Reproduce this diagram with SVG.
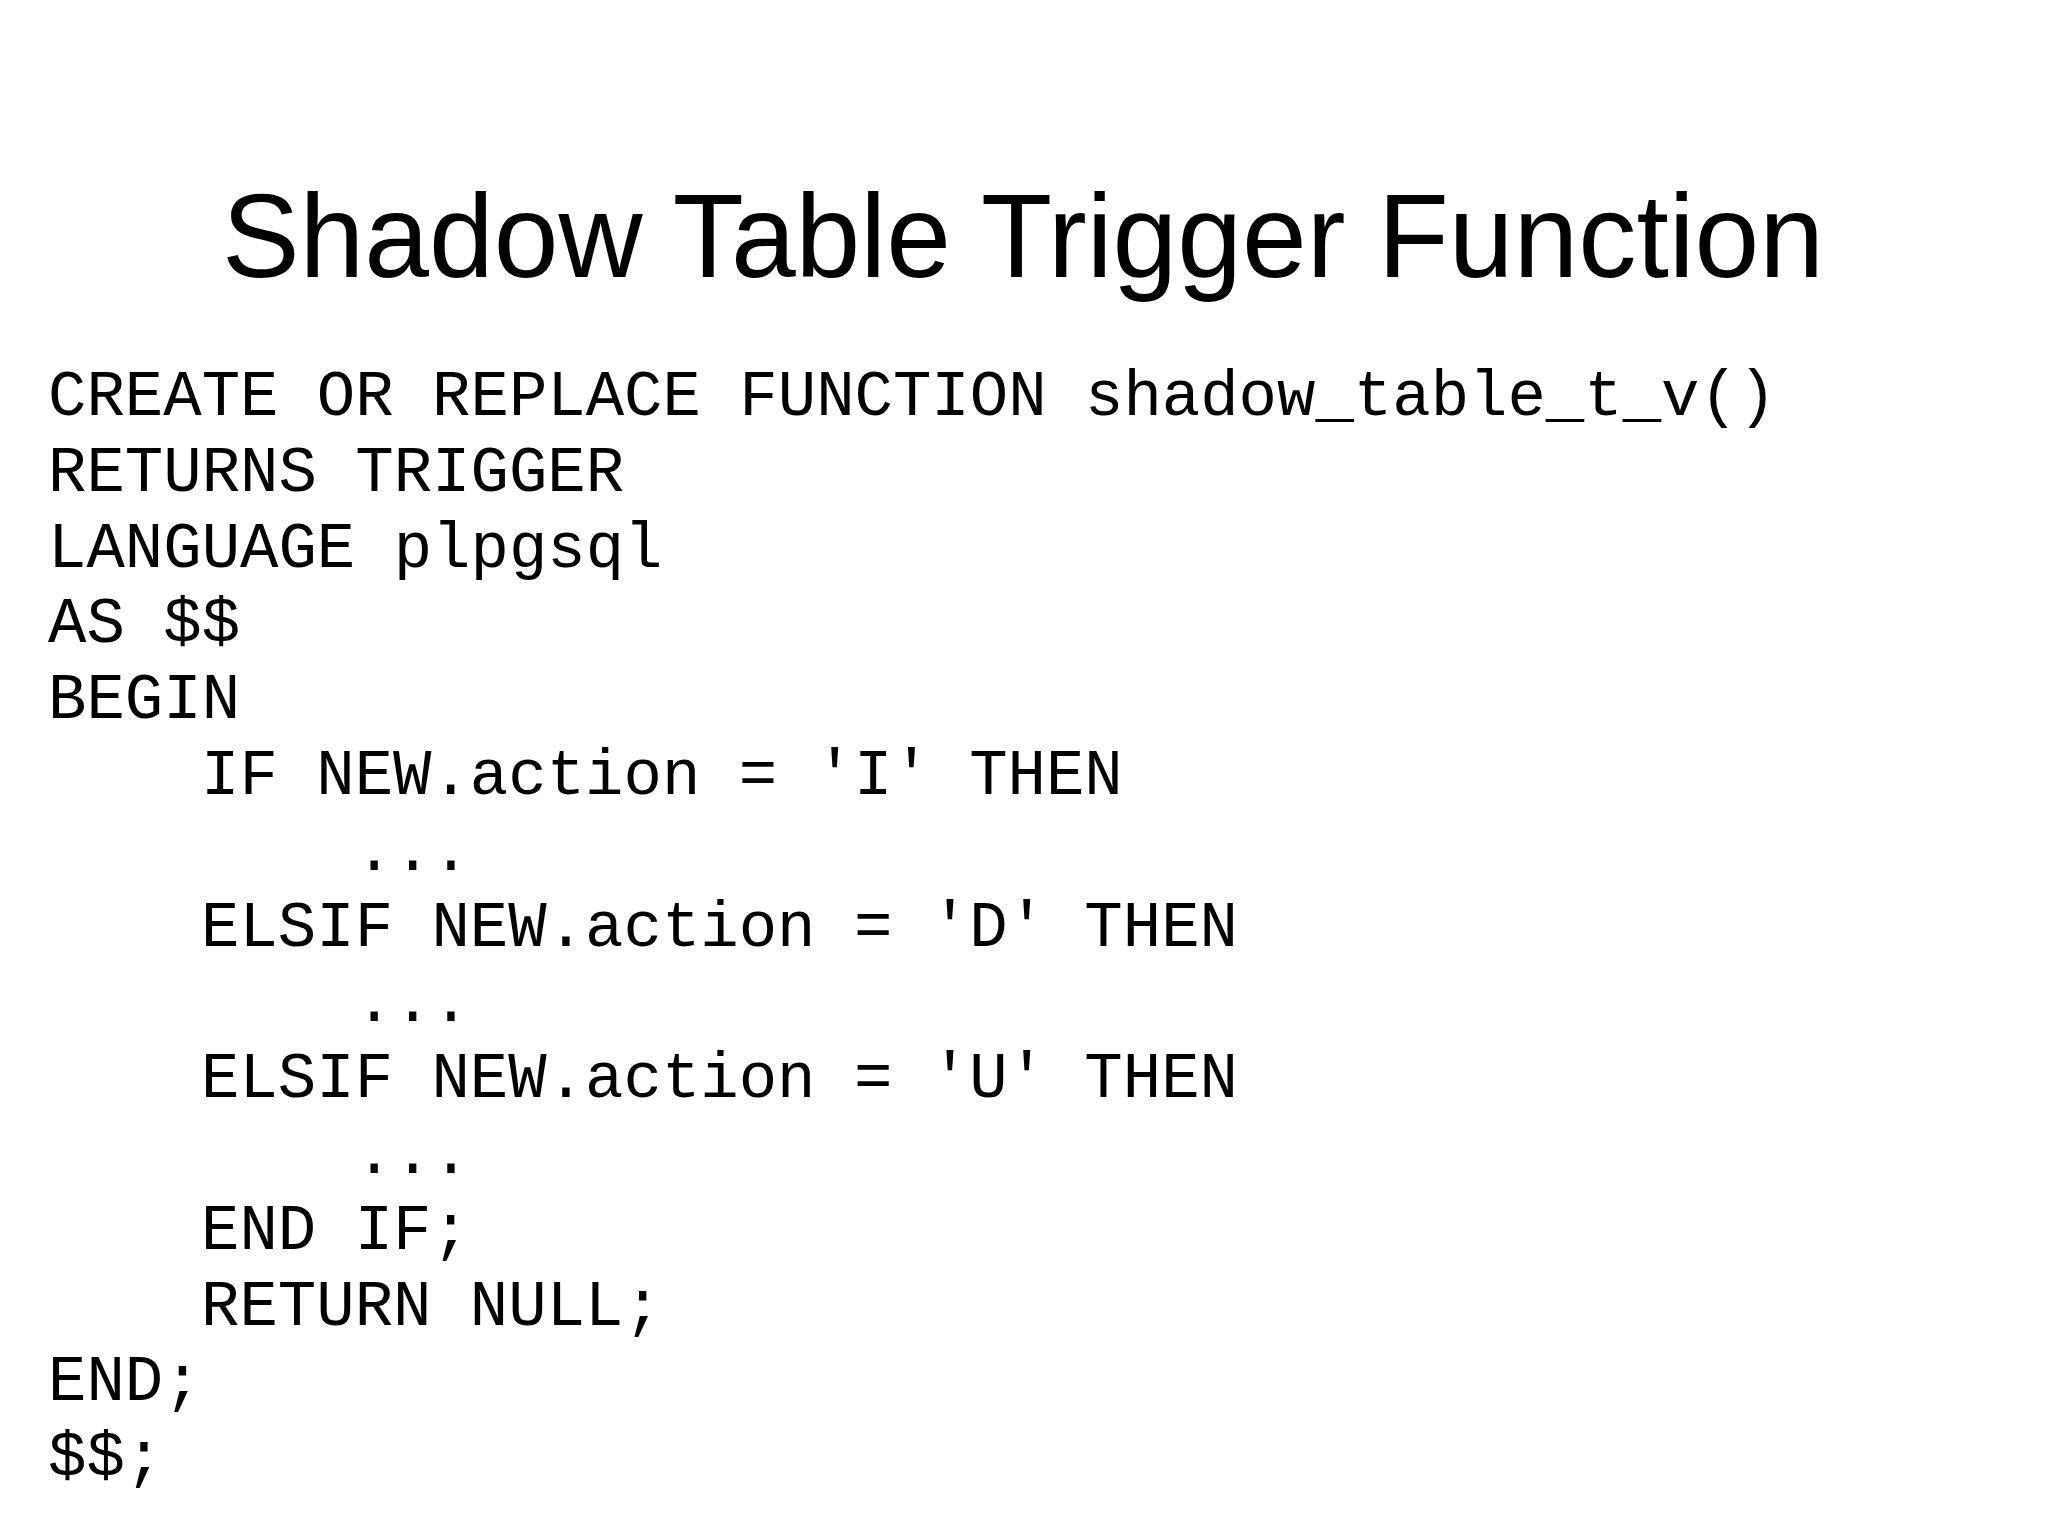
<svg xmlns="http://www.w3.org/2000/svg" width="2048" height="1536" viewBox="0 0 2048 1536">
<style>
.t{font-family:"Gill Sans","Liberation Sans","DejaVu Sans",sans-serif;font-size:118px;fill:#000}
.c{font-family:"Liberation Mono","Courier New",monospace;font-size:64px;fill:#000}
</style>
<rect width="2048" height="1536" fill="#fff"/>
<text class="t" x="1023" y="277" text-anchor="middle" textLength="1602" lengthAdjust="spacingAndGlyphs">Shadow Table Trigger Function</text>
<g id="code">
<text class="c" x="48" y="415">CREATE OR REPLACE FUNCTION shadow_table_t_v()</text>
<text class="c" x="48" y="491">RETURNS TRIGGER</text>
<text class="c" x="48" y="567">LANGUAGE plpgsql</text>
<text class="c" x="48" y="642">AS $$</text>
<text class="c" x="48" y="718">BEGIN</text>
<text class="c" x="201" y="794">IF NEW.action = 'I' THEN</text>
<text class="c" x="355" y="870">...</text>
<text class="c" x="201" y="946">ELSIF NEW.action = 'D' THEN</text>
<text class="c" x="355" y="1021">...</text>
<text class="c" x="201" y="1097">ELSIF NEW.action = 'U' THEN</text>
<text class="c" x="355" y="1173">...</text>
<text class="c" x="201" y="1249">END IF;</text>
<text class="c" x="201" y="1325">RETURN NULL;</text>
<text class="c" x="48" y="1400">END;</text>
<text class="c" x="48" y="1476">$$;</text>
</g>
</svg>
